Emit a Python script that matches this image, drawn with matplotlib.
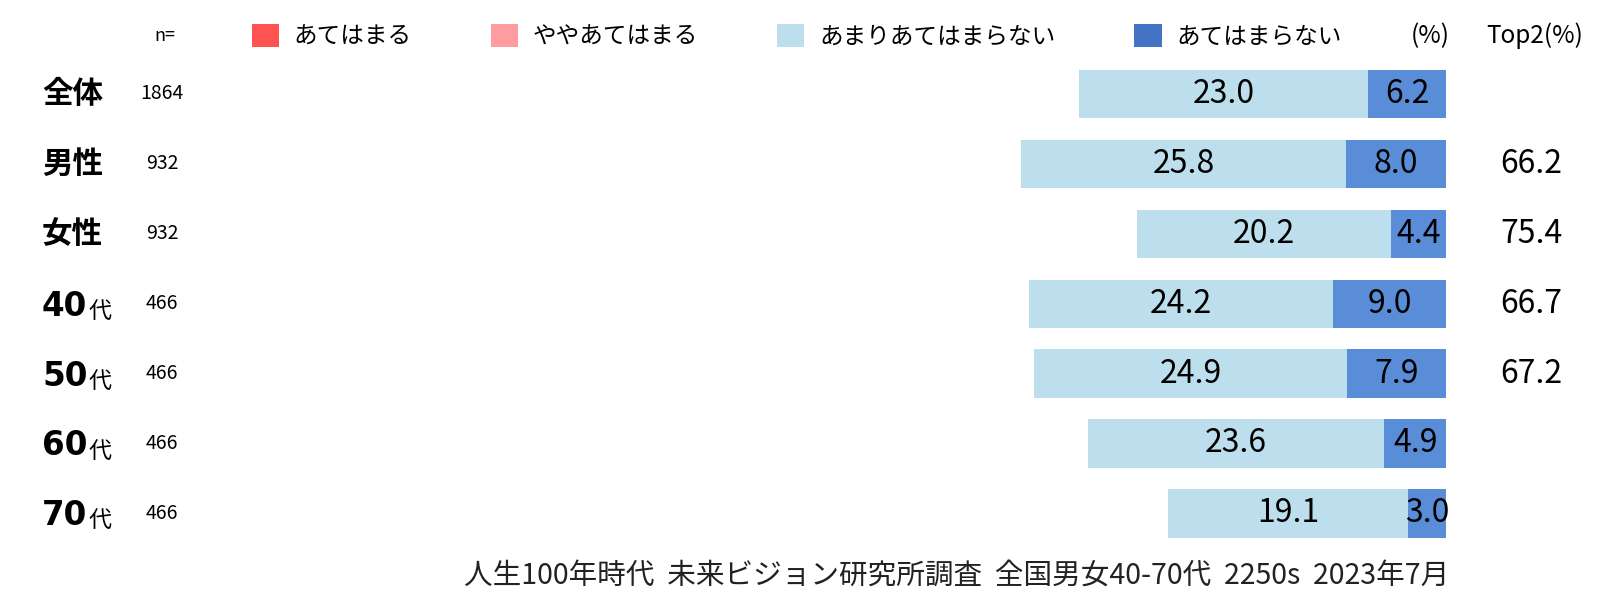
import matplotlib
matplotlib.use("Agg")
import matplotlib.pyplot as plt
from matplotlib.patches import Patch

plt.rcParams['font.family'] = ['Noto Sans CJK JP', 'DejaVu Sans']

# ---- data ----
categories = ['全体', '男性', '女性', '40代', '50代', '60代', '70代']
n_values = [1864, 932, 932, 466, 466, 466, 466]
series_names = ['あてはまる', 'ややあてはまる', 'あまりあてはまらない', 'あてはまらない']
somewhat_not = [23.0, 25.8, 20.2, 24.2, 24.9, 23.6, 19.1]
not_at_all = [6.2, 8.0, 4.4, 9.0, 7.9, 4.9, 3.0]
top2 = [None, 66.2, 75.4, 66.7, 67.2, None, None]
footnote = '人生100年時代  未来ビジョン研究所調査  全国男女40-70代  2250s  2023年7月'

legend_colors = ['#FF5252', '#FF9C9F', '#BDDFED', '#4472C4']
bar_light = '#BDDFED'
bar_dark = '#5A8DD8'

W, H = 1620, 615
fig = plt.figure(figsize=(W / 100, H / 100), dpi=100)
ax = fig.add_axes([0, 0, 1, 1])

# pixel mapping: x=0 -> px 190, x=100 -> px 1446 ; row i -> px 94 + 69.9*i
px0, px100 = 190, 1446
sx = (px100 - px0) / 100.0
row0, drow = 94, 69.9
ax.set_xlim(-px0 / sx, (W - px0) / sx)
ax.set_ylim((H - row0) / drow, -row0 / drow)
ax.axis('off')

def xpx(p):
    return (p - px0) / sx

def ypx(p):
    return (p - row0) / drow

ys = list(range(len(categories)))
lefts1 = [100 - a - b for a, b in zip(somewhat_not, not_at_all)]
lefts2 = [100 - b for b in not_at_all]
bh = 0.69
ax.barh(ys, somewhat_not, left=lefts1, height=bh, color=bar_light, edgecolor='none')
ax.barh(ys, not_at_all, left=lefts2, height=bh, color=bar_dark, edgecolor='none')

vfs = 23
for y, a, b, l1, l2 in zip(ys, somewhat_not, not_at_all, lefts1, lefts2):
    ax.text(l1 + a / 2, y, f'{a:.1f}', ha='center', va='center', fontsize=vfs, color='black')
    ax.text(l2 + b / 2, y, f'{b:.1f}', ha='center', va='center', fontsize=vfs, color='black')

# top2 column
for y, t in zip(ys, top2):
    if t is not None:
        ax.text(xpx(1531), y, f'{t:.1f}', ha='center', va='center', fontsize=vfs, color='black')

# row labels and n
for y, c, n in zip(ys, categories, n_values):
    if c.endswith('代'):
        base = y + 12 / drow
        t = ax.text(xpx(42), base, c[:-1], ha='left', va='baseline', fontsize=23.5,
                    fontweight='bold', family='DejaVu Sans', color='black')
        ax.annotate('代', xy=(1, 0), xycoords=t, xytext=(1, 0), textcoords='offset points',
                    ha='left', va='bottom', fontsize=16.5, color='black')
    else:
        ax.text(xpx(42), y, c, ha='left', va='center', fontsize=22,
                fontweight='bold', color='black')
    ax.text(xpx(162), y, str(n), ha='center', va='center', fontsize=14, color='black')

# header texts
hy = ypx(36)
ax.text(xpx(165), hy, 'n=', ha='center', va='center', fontsize=13, color='black')
ax.text(xpx(1430), hy, '(%)', ha='center', va='center', fontsize=17.5, color='black')
ax.text(xpx(1535), hy, 'Top2(%)', ha='center', va='center', fontsize=17.5, color='black')

# legend
handles = [Patch(facecolor=c, edgecolor='none') for c in legend_colors]
leg = fig.legend(handles, series_names, loc='center left',
                 bbox_to_anchor=(252 / W, 1 - 36.5 / H), ncol=4, frameon=False,
                 fontsize=17, handlelength=1.15, handleheight=1.1,
                 handletextpad=0.62, columnspacing=3.35, borderaxespad=0, borderpad=0)

# footnote
ax.text(xpx(1449), ypx(577), footnote, ha='right', va='center', fontsize=20.6, color='#222222')

fig.savefig('out.png', dpi=100)
